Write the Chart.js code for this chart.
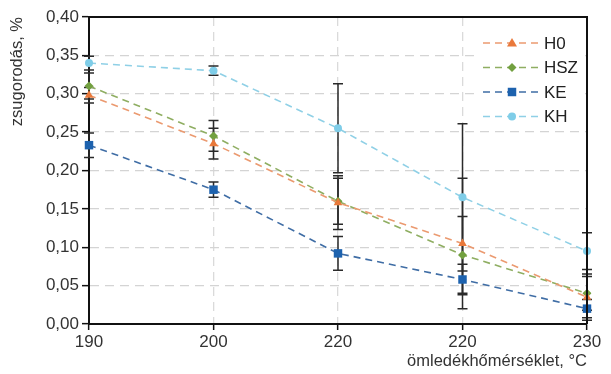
<!DOCTYPE html>
<html>
<head>
<meta charset="utf-8">
<script src="https://cdn.jsdelivr.net/npm/chart.js@4"></script>
<style>
  body { margin: 0; background: #fff; }
  #wrap { width: 611px; height: 374px; }
</style>
</head>
<body>
<div id="wrap"><canvas id="shrinkChart" width="611" height="374"></canvas></div>
<script>
const categories = ['190', '200', '220', '220', '230'];
const yTicks = [0, 0.05, 0.10, 0.15, 0.20, 0.25, 0.30, 0.35, 0.40];

const h0 = [0.298, 0.235, 0.158, 0.105, 0.035];
const hsz = [0.310, 0.245, 0.160, 0.090, 0.040];
const ke = [0.233, 0.175, 0.092, 0.058, 0.020];
const kh = [0.340, 0.330, 0.255, 0.165, 0.095];

const h0Err = [0.010, 0.020, 0.035, 0.085, 0.030];
const hszErr = [0.017, 0.020, 0.030, 0.050, 0.022];
const keErr = [0.016, 0.010, 0.022, 0.020, 0.012];
const khErr = [0.009, 0.006, 0.058, 0.096, 0.024];

const series = [
    { label: 'H0', data: h0, err: h0Err, line: '#eb9a70', fill: '#e9793b', shape: 'triangle', r: 5 },
    { label: 'HSZ', data: hsz, err: hszErr, line: '#8fae62', fill: '#72a040', shape: 'rectRot', r: 4.5 },
    { label: 'KE', data: ke, err: keErr, line: '#3f6da5', fill: '#1d62ae', shape: 'rect', r: 6 },
    { label: 'KH', data: kh, err: khErr, line: '#8fd0e6', fill: '#7fcde8', shape: 'circle', r: 4 }
];

const FONT = '"Liberation Sans", Arial, sans-serif';

// error bars drawn from the y scale
const errorBars = {
    id: 'errorBars',
    beforeDatasetsDraw(chart) {
        const ctx = chart.ctx;
        const y = chart.scales.y;
        ctx.save();
        ctx.strokeStyle = '#2a2a2a';
        ctx.lineWidth = 1.5;
        chart.data.datasets.forEach((ds, i) => {
            const meta = chart.getDatasetMeta(i);
            meta.data.forEach((pt, j) => {
                const v = ds.data[j];
                const e = ds.errors[j];
                const top = y.getPixelForValue(v + e);
                const bot = y.getPixelForValue(Math.max(0, v - e));
                ctx.beginPath();
                ctx.moveTo(pt.x, top); ctx.lineTo(pt.x, bot);
                ctx.moveTo(pt.x - 5, top); ctx.lineTo(pt.x + 5, top);
                ctx.moveTo(pt.x - 5, bot); ctx.lineTo(pt.x + 5, bot);
                ctx.stroke();
            });
        });
        ctx.restore();
    }
};

function marker(ctx, shape, x, y, r, color) {
    ctx.fillStyle = color;
    ctx.beginPath();
    if (shape === 'triangle') {
        ctx.moveTo(x, y - r);
        ctx.lineTo(x + r, y + r * 0.7);
        ctx.lineTo(x - r, y + r * 0.7);
    } else if (shape === 'rectRot') {
        ctx.moveTo(x, y - r); ctx.lineTo(x + r, y); ctx.lineTo(x, y + r); ctx.lineTo(x - r, y);
    } else if (shape === 'rect') {
        const s = r * Math.SQRT1_2;
        ctx.rect(x - s, y - s, 2 * s, 2 * s);
    } else {
        ctx.arc(x, y, r, 0, Math.PI * 2);
    }
    ctx.closePath();
    ctx.fill();
}

// frame on top/right + legend inside the plot
const frameAndLegend = {
    id: 'frameAndLegend',
    afterDraw(chart) {
        const ctx = chart.ctx;
        const a = chart.chartArea;
        ctx.save();
        ctx.strokeStyle = '#111';
        ctx.lineWidth = 2;
        ctx.beginPath();
        ctx.moveTo(a.left, a.top); ctx.lineTo(a.right, a.top); ctx.lineTo(a.right, a.bottom);
        ctx.stroke();

        const x0 = a.right - 108;
        const y0 = a.top + 14;
        ctx.fillStyle = '#fff';
        ctx.fillRect(x0, y0, 104, 100);
        series.forEach((s, i) => {
            const yy = y0 + 12 + i * 24.5;
            ctx.strokeStyle = s.line;
            ctx.lineWidth = 1.6;
            ctx.setLineDash([7, 5]);
            ctx.beginPath();
            ctx.moveTo(x0 + 4, yy); ctx.lineTo(x0 + 60, yy);
            ctx.stroke();
            ctx.setLineDash([]);
            marker(ctx, s.shape, x0 + 33, yy, s.r, s.fill);
            ctx.fillStyle = '#222';
            ctx.font = '17px ' + FONT;
            ctx.textBaseline = 'middle';
            ctx.fillText(s.label, x0 + 65, yy + 1);
        });
        ctx.restore();
    }
};

const ctx = document.getElementById('shrinkChart').getContext('2d');
const shrinkChart = new Chart(ctx, {
    type: 'line',
    data: {
        labels: categories,
        datasets: series.map(s => ({
            label: s.label,
            data: s.data,
            errors: s.err,
            borderColor: s.line,
            borderWidth: 1.6,
            borderDash: [7, 5],
            pointStyle: s.shape,
            pointRadius: s.r,
            pointBackgroundColor: s.fill,
            pointBorderColor: s.fill,
            pointBorderWidth: 0,
            tension: 0,
            fill: false
        }))
    },
    options: {
        responsive: false,
        animation: false,
        layout: { padding: { top: 17, right: 24, left: 0, bottom: 0 } },
        plugins: {
            legend: { display: false },
            tooltip: { enabled: false }
        },
        scales: {
            x: {
                type: 'category',
                offset: false,
                afterFit: s => { s.height = 50; },
                grid: {
                    color: c => (c.index === 0 || c.index === categories.length - 1) ? 'rgba(0,0,0,0)' : '#dadada',
                    lineWidth: 1.3,
                    tickColor: '#111',
                    tickLength: 6,
                    tickWidth: 1.5
                },
                border: { color: '#111', width: 2, dash: [9, 6] },
                ticks: {
                    color: '#333',
                    padding: 2,
                    maxRotation: 0,
                    font: { family: FONT, size: 17 }
                },
                title: {
                    display: true,
                    text: 'ömledékhőmérséklet, °C',
                    align: 'end',
                    color: '#333',
                    padding: { top: 0, bottom: 3 },
                    font: { family: FONT, size: 16.5 }
                }
            },
            y: {
                min: 0,
                max: 0.40,
                afterFit: s => { s.width = 89; },
                afterBuildTicks: s => { s.ticks = yTicks.map(v => ({ value: v })); },
                grid: {
                    color: c => (c.index === 0 || c.index === yTicks.length - 1) ? 'rgba(0,0,0,0)' : '#d4d4d4',
                    lineWidth: 1.3,
                    tickColor: '#111',
                    tickLength: 7,
                    tickWidth: 1.5
                },
                border: { color: '#111', width: 2, dash: [9, 6] },
                ticks: {
                    color: '#333',
                    padding: 3,
                    font: { family: FONT, size: 17 },
                    callback: v => Number(v).toFixed(2).replace('.', ',')
                },
                title: {
                    display: true,
                    text: 'zsugorodás, %',
                    align: 'end',
                    color: '#333',
                    padding: { top: 8, bottom: 0 },
                    font: { family: FONT, size: 16.5 }
                }
            }
        }
    },
    plugins: [errorBars, frameAndLegend]
});
</script>
</body>
</html>
